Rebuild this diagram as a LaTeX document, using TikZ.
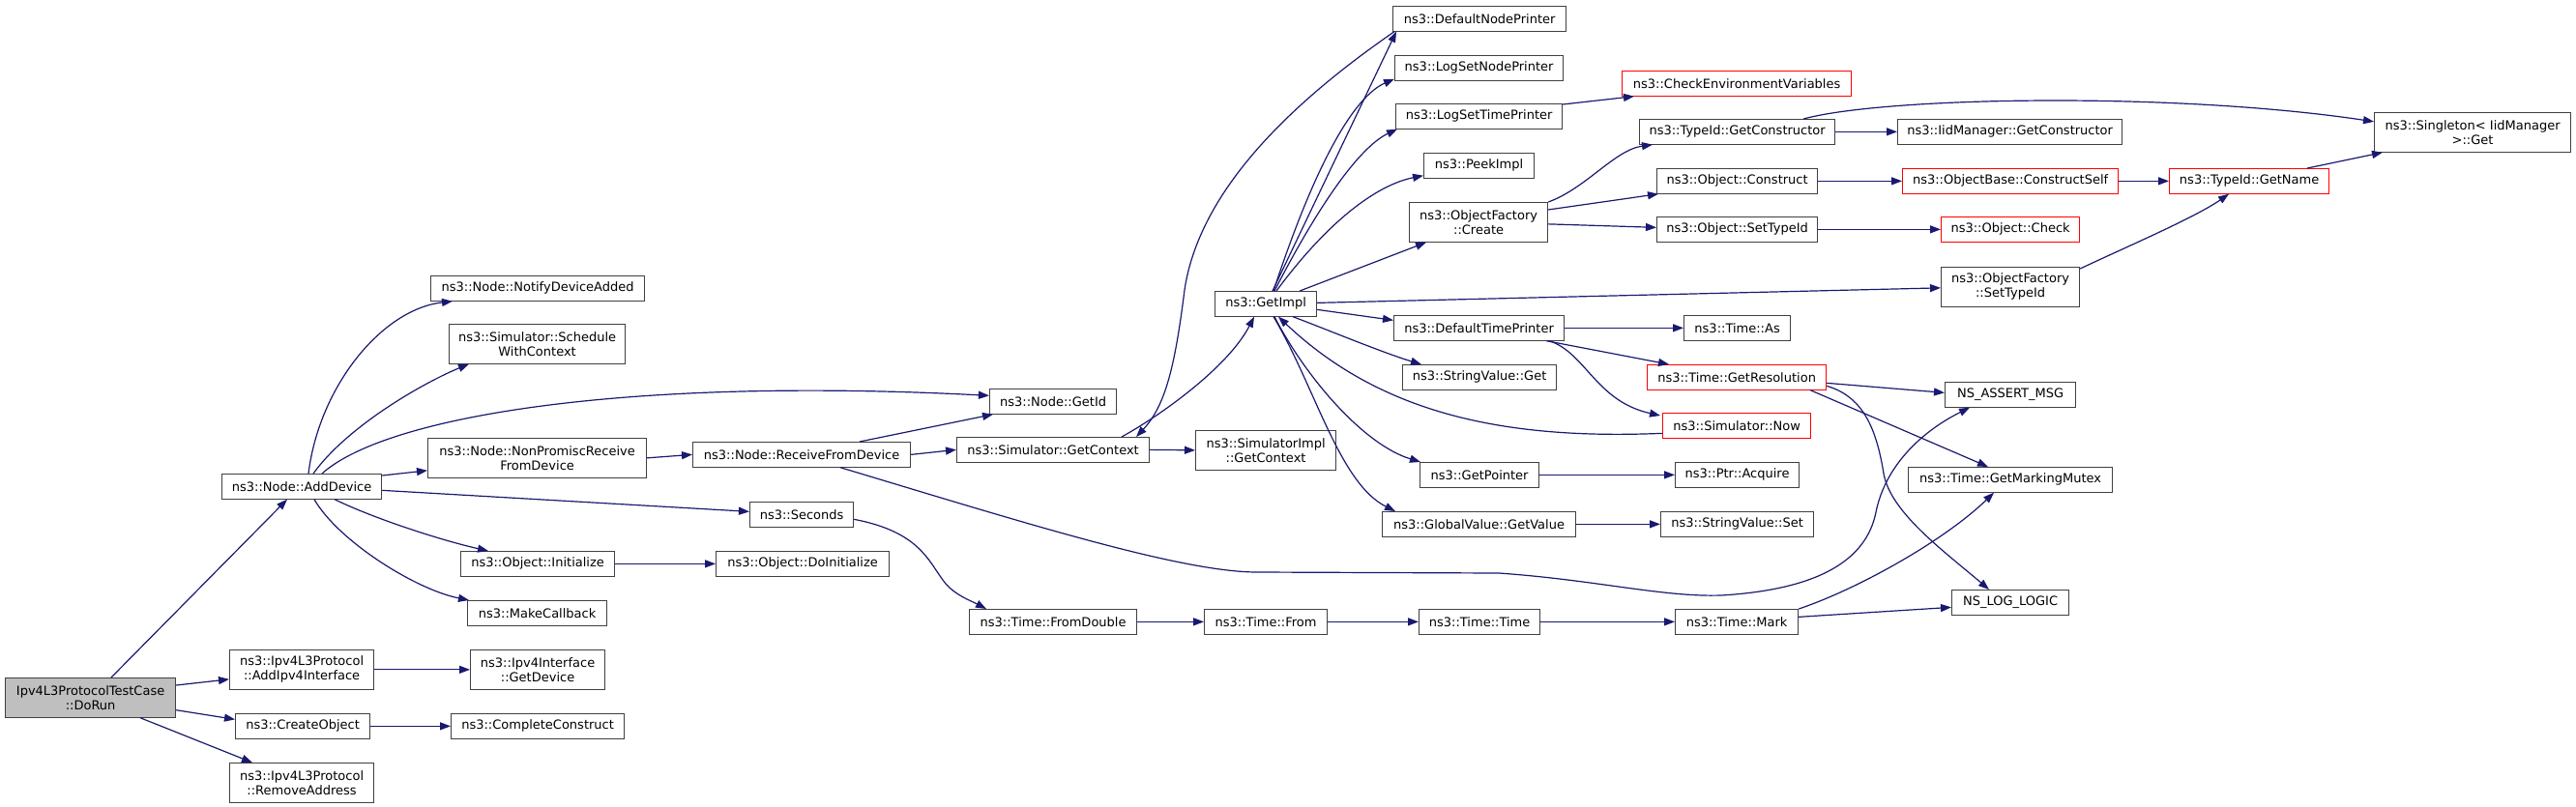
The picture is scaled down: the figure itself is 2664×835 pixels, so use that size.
\documentclass[tikz,border=0pt]{standalone}
\usepackage{fontspec}
\setmainfont{DejaVu Sans}
\usetikzlibrary{arrows.meta,calc}
\definecolor{edgeblue}{HTML}{191970}
\definecolor{boxgray}{HTML}{404040}
\begin{document}
\begin{tikzpicture}[x=1pt,y=-1pt,
  nbox/.style={draw=boxgray, line width=1.2pt, fill=white, inner sep=0pt, anchor=north west, align=center, font=\fontsize{13}{15}\selectfont, minimum height=25.5pt},
  nbox2/.style={nbox, minimum height=40.5pt},
  rbox/.style={nbox, draw=red},
  cg/.style={draw=edgeblue, line width=1.2pt, -{Triangle[length=11pt,width=8pt]}}]
\fill[white] (0,0) rectangle (2664,835);
\useasboundingbox (0,0) rectangle (2664,835);
% nodes
\node[nbox2, fill=black!25, minimum width=176pt] (DoRun) at (5,701) {Ipv4L3ProtocolTestCase\\::DoRun};
\node[nbox, minimum width=165pt] (AddDevice) at (229,490) {ns3::Node::AddDevice};
\node[nbox2, minimum width=149pt] (AddIpv) at (237,672) {ns3::Ipv4L3Protocol\\::AddIpv4Interface};
\node[nbox, minimum width=139pt] (CreateObj) at (243,738) {ns3::CreateObject};
\node[nbox2, minimum width=149pt] (RemoveAddr) at (237,789) {ns3::Ipv4L3Protocol\\::RemoveAddress};
\node[nbox, minimum width=221pt] (Notify) at (445,285) {ns3::Node::NotifyDeviceAdded};
\node[nbox2, minimum width=182pt] (Schedule) at (464,335) {ns3::Simulator::Schedule\\WithContext};
\node[nbox2, minimum width=226pt] (NonPromisc) at (442,453) {ns3::Node::NonPromiscReceive\\FromDevice};
\node[nbox, minimum width=107pt] (Seconds) at (775,519) {ns3::Seconds};
\node[nbox, minimum width=159pt] (ObjInit) at (476,570) {ns3::Object::Initialize};
\node[nbox, minimum width=144pt] (MakeCb) at (483,621) {ns3::MakeCallback};
\node[nbox2, minimum width=139pt] (IfGetDev) at (486,672) {ns3::Ipv4Interface\\::GetDevice};
\node[nbox, minimum width=179pt] (CompleteC) at (466,738) {ns3::CompleteConstruct};
\node[nbox, minimum width=225pt] (RecvDev) at (716,457) {ns3::Node::ReceiveFromDevice};
\node[nbox, minimum width=179pt] (DoInit) at (740,570) {ns3::Object::DoInitialize};
\node[nbox, minimum width=131pt] (GetId) at (1023,402) {ns3::Node::GetId};
\node[nbox, minimum width=199pt] (SimGetCtx) at (989,452) {ns3::Simulator::GetContext};
\node[nbox, minimum width=173pt] (FromDouble) at (1002,630) {ns3::Time::FromDouble};
\node[nbox2, minimum width=145pt] (ImplGetCtx) at (1236,445) {ns3::SimulatorImpl\\::GetContext};
\node[nbox, minimum width=127pt] (TimeFrom) at (1245,630) {ns3::Time::From};
\node[nbox, minimum width=105pt] (GetImpl) at (1256,301) {ns3::GetImpl};
\node[nbox, minimum width=179pt] (DNP) at (1440,6) {ns3::DefaultNodePrinter};
\node[nbox, minimum width=174pt] (LSNP) at (1442,57) {ns3::LogSetNodePrinter};
\node[nbox, minimum width=172pt] (LSTP) at (1443,107) {ns3::LogSetTimePrinter};
\node[nbox, minimum width=114pt] (Peek) at (1472,158) {ns3::PeekImpl};
\node[nbox2, minimum width=143pt] (OFCreate) at (1457,209) {ns3::ObjectFactory\\::Create};
\node[nbox, minimum width=176pt] (DTP) at (1441,326) {ns3::DefaultTimePrinter};
\node[nbox, minimum width=159pt] (SVGet) at (1450,377) {ns3::StringValue::Get};
\node[nbox, minimum width=123pt] (GetPtr) at (1468,478) {ns3::GetPointer};
\node[nbox, minimum width=200pt] (GVGet) at (1429,529) {ns3::GlobalValue::GetValue};
\node[nbox, minimum width=125pt] (TimeTime) at (1467,630) {ns3::Time::Time};
\node[rbox, minimum width=237pt] (CheckEnv) at (1677,73) {ns3::CheckEnvironmentVariables};
\node[nbox, minimum width=202pt] (TIGetCons) at (1695,123) {ns3::TypeId::GetConstructor};
\node[nbox, minimum width=166pt] (ObjConstruct) at (1713,174) {ns3::Object::Construct};
\node[nbox, minimum width=166pt] (ObjSetTid) at (1713,224) {ns3::Object::SetTypeId};
\node[nbox2, minimum width=143pt] (OFSetTid) at (2007,276) {ns3::ObjectFactory\\::SetTypeId};
\node[nbox, minimum width=110pt] (TimeAs) at (1741,326) {ns3::Time::As};
\node[rbox, minimum width=185pt] (GetRes) at (1703,377) {ns3::Time::GetResolution};
\node[rbox, minimum width=153pt] (SimNow) at (1719,427) {ns3::Simulator::Now};
\node[nbox, minimum width=128pt] (PtrAcq) at (1732,478) {ns3::Ptr::Acquire};
\node[nbox, minimum width=158pt] (SVSet) at (1717,529) {ns3::StringValue::Set};
\node[nbox, minimum width=127pt] (TimeMark) at (1732,630) {ns3::Time::Mark};
\node[nbox, minimum width=232pt] (IidGetCons) at (1962,123) {ns3::IidManager::GetConstructor};
\node[rbox, minimum width=223pt] (ConstructSelf) at (1967,174) {ns3::ObjectBase::ConstructSelf};
\node[rbox, minimum width=143pt] (ObjCheck) at (2007,224) {ns3::Object::Check};
\node[nbox, minimum width=135pt] (NSAssert) at (2011,395) {NS\_ASSERT\_MSG};
\node[nbox, minimum width=211pt] (MarkMutex) at (1973,483) {ns3::Time::GetMarkingMutex};
\node[nbox, minimum width=121pt] (NSLog) at (2018,610) {NS\_LOG\_LOGIC};
\node[rbox, minimum width=165pt] (GetName) at (2243,174) {ns3::TypeId::GetName};
\node[nbox2, minimum width=203pt] (Singleton) at (2455,116) {ns3::Singleton< IidManager\\>::Get};
% edges
\draw[cg] ($(DoRun.north west)+(110,0)$) -- ($(AddDevice.south west)+(68,0)$);
\draw[cg] ($(DoRun.north east)+(0,8)$) -- ($(AddIpv.west)+(0,10)$);
\draw[cg] ($(DoRun.south east)+(0,-8)$) -- ($(CreateObj.west)+(0,-7)$);
\draw[cg] ($(DoRun.south west)+(140,0)$) -- ($(RemoveAddr.north west)+(24,0)$);
\draw[cg] ($(AddDevice.north west)+(90,0)$) .. controls (330,400) and (395,320) .. ($(Notify.south west)+(23,0)$);
\draw[cg] ($(AddDevice.north west)+(95,0)$) .. controls (360,440) and (440,395) .. ($(Schedule.south west)+(21,0)$);
\draw[cg] ($(AddDevice.north west)+(104,0)$) .. controls (400,430) and (650,390) .. ($(GetId.west)+(0,-6)$);
\draw[cg] ($(AddDevice.north east)+(0,2)$) -- ($(NonPromisc.west)+(0,13)$);
\draw[cg] ($(AddDevice.east)+(0,4)$) -- ($(Seconds.west)+(0,-3)$);
\draw[cg] ($(AddDevice.south west)+(117,0)$) .. controls (390,538) and (460,560) .. ($(ObjInit.north west)+(29,0)$);
\draw[cg] ($(AddDevice.south west)+(96,0)$) .. controls (350,560) and (430,610) .. ($(MakeCb.north west)+(2,0)$);
\draw[cg] (AddIpv.east) -- (IfGetDev.west);
\draw[cg] (CreateObj.east) -- (CompleteC.west);
\draw[cg] (NonPromisc.east) -- (RecvDev.west);
\draw[cg] ($(RecvDev.north west)+(173,0)$) -- ($(GetId.south west)+(4,0)$);
\draw[cg] (RecvDev.east) -- (SimGetCtx.west);
\draw[cg] ($(RecvDev.south west)+(153,0)$) .. controls (1050,538) and (1220,592) .. (1300,592) -- (1550,593) .. controls (1650,600) and (1720,618) .. (1780,616) .. controls (1880,610) and (1930,580) .. (1940,530) .. controls (1950,480) and (1990,445) .. ($(NSAssert.south west)+(26,0)$);
\draw[cg] ($(Seconds.east)+(0,5)$) .. controls (950,550) and (960,580) .. (975,600) .. controls (985,615) and (1005,622) .. ($(FromDouble.north west)+(18,0)$);
\draw[cg] (ObjInit.east) -- (DoInit.west);
\draw[cg] ($(SimGetCtx.north west)+(171,0)$) .. controls (1200,430) and (1270,380) .. ($(GetImpl.south west)+(41,0)$);
\draw[cg] (SimGetCtx.east) -- (ImplGetCtx.west);
\draw[cg] ($(DNP.south west)+(2,0)$) .. controls (1330,110) and (1240,200) .. (1225,300) .. controls (1215,380) and (1205,420) .. ($(SimGetCtx.north west)+(186,0)$);
\draw[cg] ($(GetImpl.north west)+(60,0)$) -- ($(DNP.south west)+(4,0)$);
\draw[cg] ($(GetImpl.north west)+(61,0)$) .. controls (1360,170) and (1400,100) .. ($(LSNP.south west)+(0,-2)$);
\draw[cg] ($(GetImpl.north west)+(62,0)$) .. controls (1370,200) and (1410,150) .. ($(LSTP.south west)+(2,0)$);
\draw[cg] ($(GetImpl.north west)+(64,0)$) .. controls (1380,220) and (1430,190) .. ($(Peek.south west)+(0,-3)$);
\draw[cg] ($(GetImpl.north east)+(-18,0)$) -- ($(OFCreate.south west)+(18,0)$);
\draw[cg] ($(GetImpl.east)+(0,-1)$) -- ($(OFSetTid.west)+(0,1)$);
\draw[cg] ($(GetImpl.east)+(0,6)$) -- ($(DTP.west)+(0,-8)$);
\draw[cg] ($(GetImpl.south west)+(81,0)$) .. controls (1370,340) and (1430,365) .. ($(SVGet.north west)+(20,0)$);
\draw[cg] ($(GetImpl.south west)+(62,0)$) .. controls (1350,390) and (1410,460) .. ($(GetPtr.north west)+(1,0)$);
\draw[cg] ($(GetImpl.south west)+(61,0)$) .. controls (1360,400) and (1385,500) .. ($(GVGet.north west)+(14,0)$);
\draw[cg] ($(SimNow.west)+(0,8)$) .. controls (1560,455) and (1430,430) .. ($(GetImpl.south west)+(66,0)$);
\draw[cg] ($(LSTP.north east)+(0,1)$) -- ($(CheckEnv.south west)+(13,0)$);
\draw[cg] (OFCreate.north east) .. controls (1640,195) and (1670,155) .. ($(TIGetCons.south west)+(14,0)$);
\draw[cg] ($(OFCreate.north east)+(0,8)$) -- ($(ObjConstruct.south west)+(2,0)$);
\draw[cg] ($(OFCreate.east)+(0,2)$) -- ($(ObjSetTid.west)+(0,-2)$);
\draw[cg] (TIGetCons.east) -- (IidGetCons.west);
\draw[cg] ($(TIGetCons.north east)+(-33,0)$) .. controls (1950,100) and (2250,95) .. ($(Singleton.west)+(0,-11)$);
\draw[cg] (ObjConstruct.east) -- (ConstructSelf.west);
\draw[cg] (ConstructSelf.east) -- (GetName.west);
\draw[cg] ($(GetName.north east)+(-23,0)$) -- ($(Singleton.south west)+(9,0)$);
\draw[cg] (ObjSetTid.east) -- (ObjCheck.west);
\draw[cg] ($(OFSetTid.north east)+(0,2)$) .. controls (2200,255) and (2270,225) .. ($(GetName.south west)+(62,0)$);
\draw[cg] (DTP.east) -- (TimeAs.west);
\draw[cg] ($(DTP.south east)+(-19,0)$) -- ($(GetRes.north west)+(23,0)$);
\draw[cg] ($(DTP.south east)+(-16,0)$) .. controls (1640,365) and (1650,415) .. ($(SimNow.north west)+(-2,3)$);
\draw[cg] ($(GetRes.east)+(0,6)$) -- ($(NSAssert.west)+(0,-2)$);
\draw[cg] ($(GetRes.south east)+(-17,0)$) -- ($(MarkMutex.north west)+(83,0)$);
\draw[cg] ($(GetRes.east)+(0,9)$) .. controls (1925,410) and (1940,440) .. (1948,490) .. controls (1955,530) and (2010,570) .. ($(NSLog.north west)+(39,0)$);
\draw[cg] (GetPtr.east) -- (PtrAcq.west);
\draw[cg] (GVGet.east) -- (SVSet.west);
\draw[cg] (FromDouble.east) -- (TimeFrom.west);
\draw[cg] (TimeFrom.east) -- (TimeTime.west);
\draw[cg] (TimeTime.east) -- (TimeMark.west);
\draw[cg] (TimeMark.north east) .. controls (1920,610) and (2010,560) .. ($(MarkMutex.south west)+(89,0)$);
\draw[cg] ($(TimeMark.east)+(0,-5)$) -- ($(NSLog.west)+(0,5)$);
\end{tikzpicture}
\end{document}
